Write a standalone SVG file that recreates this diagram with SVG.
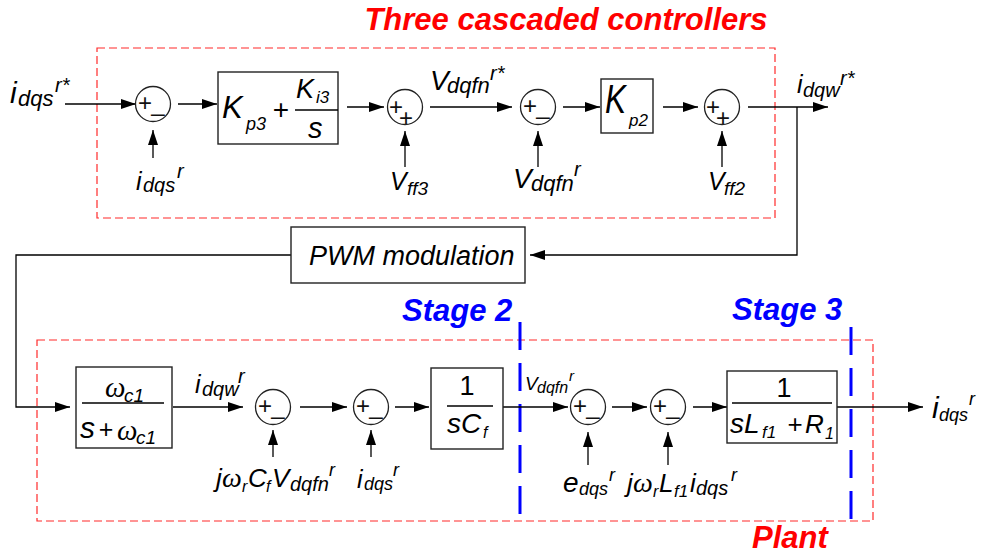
<svg xmlns="http://www.w3.org/2000/svg" width="983" height="555" viewBox="0 0 983 555">
<defs>
<marker id="ah" markerWidth="15" markerHeight="10" refX="15" refY="5" orient="auto" markerUnits="userSpaceOnUse"><path d="M0,0 L15,5 L0,10 z" fill="#000"/></marker>
<style>
.ln{stroke:#000;stroke-width:1.3;fill:none}
.ar{marker-end:url(#ah)}
.box{fill:#fff;stroke:#222;stroke-width:1.4}
.sum{fill:#fff;stroke:#222;stroke-width:1.3}
.t{font-family:"Liberation Sans",Arial,sans-serif;font-style:italic;fill:#000}
.g{font-family:"Liberation Serif","Times New Roman",serif;font-style:italic}
.u{font-style:normal}
.sg{font-family:"Liberation Sans",Arial,sans-serif;font-size:24px;fill:#111;text-anchor:middle}
.red{stroke:#ff2a2a;stroke-width:1.2;stroke-dasharray:8 4;fill:none}
.blue{stroke:#0000ff;stroke-width:3;stroke-dasharray:28 13;fill:none}
.hdr{font-family:"Liberation Sans",Arial,sans-serif;font-weight:bold;font-style:italic;font-size:31px}
</style>
</defs>
<rect width="983" height="555" fill="#fff"/>

<g id="frames">
<rect class="red" x="97" y="48" width="678" height="170"/>
<rect class="red" x="37" y="340" width="836" height="181"/>
<line class="blue" x1="520" y1="322" x2="520" y2="527"/>
<line class="blue" x1="851" y1="327" x2="851" y2="530"/>
<text class="hdr" x="566" y="30" text-anchor="middle" fill="#ff0000">Three cascaded controllers</text>
<text class="hdr" x="402" y="321" fill="#0000ff">Stage 2</text>
<text class="hdr" x="732" y="320" fill="#0000ff">Stage 3</text>
<text class="hdr" x="752" y="548" font-size="30" fill="#ff0000">Plant</text>
</g>

<g id="connectors">
<line class="ln ar" x1="65" y1="104" x2="136" y2="104"/>
<line class="ln ar" x1="178" y1="104" x2="217" y2="104"/>
<line class="ln ar" x1="153" y1="158" x2="153" y2="130"/>
<line class="ln ar" x1="347" y1="107" x2="384" y2="107"/>
<line class="ln ar" x1="405" y1="167" x2="405" y2="131"/>
<line class="ln ar" x1="430" y1="107" x2="512" y2="107"/>
<line class="ln ar" x1="538" y1="167" x2="538" y2="131"/>
<line class="ln ar" x1="563" y1="107" x2="600" y2="107"/>
<line class="ln ar" x1="663" y1="107" x2="698" y2="107"/>
<line class="ln ar" x1="722" y1="167" x2="722" y2="131"/>
<line class="ln ar" x1="748" y1="107" x2="828" y2="107"/>
<polyline class="ln ar" points="797,107 797,255 530,255"/>
<polyline class="ln ar" points="291,255 16,255 16,407 70,407"/>
<line class="ln ar" x1="173" y1="407" x2="243" y2="407"/>
<line class="ln ar" x1="273" y1="457" x2="273" y2="430"/>
<line class="ln ar" x1="300" y1="407" x2="347" y2="407"/>
<line class="ln ar" x1="371" y1="457" x2="371" y2="430"/>
<line class="ln ar" x1="395" y1="407" x2="429" y2="407"/>
<line class="ln ar" x1="503" y1="407" x2="568" y2="407"/>
<line class="ln ar" x1="588" y1="465" x2="588" y2="432"/>
<line class="ln ar" x1="612" y1="407" x2="647" y2="407"/>
<line class="ln ar" x1="668" y1="465" x2="668" y2="432"/>
<line class="ln ar" x1="693" y1="407" x2="727" y2="407"/>
<line class="ln ar" x1="837" y1="407" x2="923" y2="407"/>
</g>

<g id="sum1"><circle class="sum" cx="153" cy="104" r="17.5"/><text class="sg"><tspan x="145" y="111">+</tspan><tspan x="158" y="111">_</tspan></text></g>
<g id="sum2"><circle class="sum" cx="405" cy="107" r="17.5"/><text class="sg"><tspan x="396" y="115">+</tspan><tspan x="406" y="126">+</tspan></text></g>
<g id="sum3"><circle class="sum" cx="538" cy="107" r="17.5"/><text class="sg"><tspan x="530" y="114">+</tspan><tspan x="543" y="114">_</tspan></text></g>
<g id="sum4"><circle class="sum" cx="722" cy="107" r="17.5"/><text class="sg"><tspan x="713" y="115">+</tspan><tspan x="723" y="126">+</tspan></text></g>
<g id="sum5"><circle class="sum" cx="273" cy="407" r="17.5"/><text class="sg"><tspan x="265" y="414">+</tspan><tspan x="278" y="414">_</tspan></text></g>
<g id="sum6"><circle class="sum" cx="371" cy="407" r="17.5"/><text class="sg"><tspan x="363" y="414">+</tspan><tspan x="376" y="414">_</tspan></text></g>
<g id="sum7"><circle class="sum" cx="588" cy="407" r="17.5"/><text class="sg"><tspan x="580" y="414">+</tspan><tspan x="593" y="414">_</tspan></text></g>
<g id="sum8"><circle class="sum" cx="668" cy="407" r="17.5"/><text class="sg"><tspan x="660" y="414">+</tspan><tspan x="673" y="414">_</tspan></text></g>

<g id="pi3">
<rect class="box" x="218" y="72" width="120" height="72"/>
<line class="ln" x1="295" y1="110" x2="338" y2="110"/>
<text class="t"><tspan x="222" y="118" font-size="31">K</tspan><tspan x="246" y="130" font-size="18">p3</tspan><tspan class="u" x="281" y="119" font-size="28" text-anchor="middle">+</tspan><tspan x="296" y="98" font-size="27">K</tspan><tspan x="316" y="103" font-size="17">i3</tspan><tspan x="308" y="138" font-size="29">s</tspan></text>
</g>

<g id="kp2">
<rect class="box" x="601" y="79" width="52" height="54"/>
<text class="t"><tspan x="605" y="113" font-size="40" textLength="21" lengthAdjust="spacingAndGlyphs">K</tspan><tspan x="629" y="126" font-size="17">p2</tspan></text>
</g>

<g id="pwm">
<rect class="box" x="291" y="227" width="234" height="56"/>
<text class="t" x="309" y="265" font-size="27">PWM modulation</text>
</g>

<g id="lpf">
<rect class="box" x="76" y="367" width="96" height="81"/>
<line class="ln" x1="82" y1="403" x2="164" y2="403"/>
<text class="t"><tspan class="g" x="105" y="397" font-size="29">ω</tspan><tspan x="124" y="402" font-size="19">c1</tspan><tspan x="80" y="438" font-size="30">s</tspan><tspan class="u" x="106" y="438" font-size="25" text-anchor="middle">+</tspan><tspan class="g" x="117" y="440" font-size="29">ω</tspan><tspan x="136" y="444" font-size="19">c1</tspan></text>
</g>

<g id="cap">
<rect class="box" x="431" y="368" width="72" height="81"/>
<line class="ln" x1="447" y1="406" x2="493" y2="406"/>
<text class="t"><tspan class="u" x="467" y="395" font-size="27" text-anchor="middle">1</tspan><tspan x="447" y="433" font-size="28">s</tspan><tspan x="461" y="433" font-size="28">C</tspan><tspan x="483" y="438" font-size="16">f</tspan></text>
</g>

<g id="ind">
<rect class="box" x="727" y="371" width="110" height="72"/>
<line class="ln" x1="732" y1="403" x2="832" y2="403"/>
<text class="t"><tspan class="u" x="784" y="397" font-size="27" text-anchor="middle">1</tspan><tspan x="730" y="433" font-size="28">s</tspan><tspan x="744" y="433" font-size="28">L</tspan><tspan x="762" y="438" font-size="17">f1</tspan><tspan class="u" x="795" y="433" font-size="26" text-anchor="middle">+</tspan><tspan x="805" y="433" font-size="26">R</tspan><tspan x="825" y="439" font-size="16">1</tspan></text>
</g>

<g id="labels">
<text class="t"><tspan x="10" y="103" font-size="30">i</tspan><tspan x="18" y="106" font-size="22">dqs</tspan><tspan x="55" y="92" font-size="20">r*</tspan></text>
<text class="t"><tspan x="136" y="190" font-size="25">i</tspan><tspan x="143" y="192" font-size="20">dqs</tspan><tspan x="177" y="178" font-size="20">r</tspan></text>
<text class="t"><tspan x="390" y="190" font-size="25">V</tspan><tspan x="407" y="195" font-size="19">ff3</tspan></text>
<text class="t"><tspan x="430" y="90" font-size="28">V</tspan><tspan x="447" y="93" font-size="22">dqfn</tspan><tspan x="490" y="80" font-size="20">r*</tspan></text>
<text class="t"><tspan x="513" y="188" font-size="28">V</tspan><tspan x="531" y="191" font-size="22">dqfn</tspan><tspan x="574" y="176" font-size="20">r</tspan></text>
<text class="t"><tspan x="708" y="190" font-size="25">V</tspan><tspan x="724" y="195" font-size="19">ff2</tspan></text>
<text class="t"><tspan x="797" y="93" font-size="25">i</tspan><tspan x="803" y="97" font-size="20">dqw</tspan><tspan x="840" y="85" font-size="20">r*</tspan></text>
<text class="t"><tspan x="195" y="393" font-size="25">i</tspan><tspan x="202" y="396" font-size="20">dqw</tspan><tspan x="238" y="383" font-size="20">r</tspan></text>
<text class="t"><tspan x="216" y="487" font-size="26">j</tspan><tspan class="g" x="222" y="487" font-size="28">ω</tspan><tspan x="242" y="492" font-size="16">r</tspan><tspan x="248" y="487" font-size="26">C</tspan><tspan x="266" y="492" font-size="16">f</tspan><tspan x="272" y="487" font-size="26">V</tspan><tspan x="290" y="491" font-size="20">dqfn</tspan><tspan x="329" y="476" font-size="18">r</tspan></text>
<text class="t"><tspan x="357" y="488" font-size="25">i</tspan><tspan x="364" y="490" font-size="18">dqs</tspan><tspan x="393" y="476" font-size="18">r</tspan></text>
<text class="t"><tspan x="525" y="390" font-size="19">V</tspan><tspan x="537" y="393" font-size="16">dqfn</tspan><tspan x="569" y="381" font-size="15">r</tspan></text>
<text class="t"><tspan x="563" y="492" font-size="28">e</tspan><tspan x="579" y="495" font-size="18">dqs</tspan><tspan x="609" y="481" font-size="18">r</tspan></text>
<text class="t"><tspan x="627" y="492" font-size="26">j</tspan><tspan class="g" x="633" y="492" font-size="28">ω</tspan><tspan x="653" y="497" font-size="16">r</tspan><tspan x="659" y="492" font-size="26">L</tspan><tspan x="674" y="497" font-size="17">f1</tspan><tspan x="690" y="492" font-size="26">i</tspan><tspan x="696" y="495" font-size="20">dqs</tspan><tspan x="731" y="481" font-size="18">r</tspan></text>
<text class="t"><tspan x="932" y="418" font-size="30">i</tspan><tspan x="939" y="421" font-size="18">dqs</tspan><tspan x="969" y="405" font-size="18">r</tspan></text>
</g>
</svg>
